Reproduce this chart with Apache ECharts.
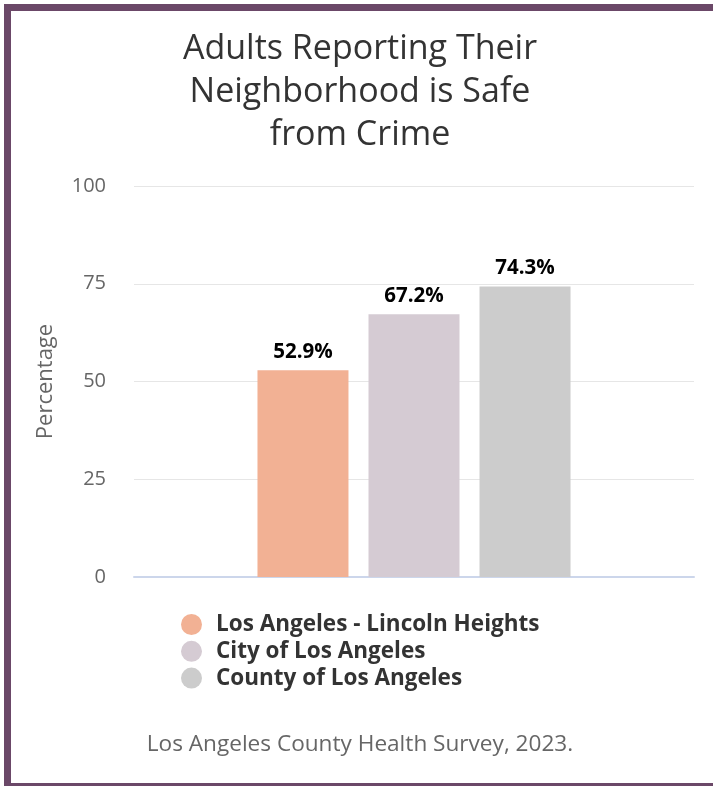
<!DOCTYPE html>
<html>
<head>
<meta charset="utf-8">
<script src="https://cdn.jsdelivr.net/npm/echarts@6/dist/echarts.min.js"></script>
<style>
html,body{margin:0;padding:0;background:#fff;overflow:hidden;}
#chart{position:absolute;left:0;top:0;width:713px;height:786px;}
#frame{position:absolute;left:4px;top:4px;width:800px;height:772px;border:7px solid #6b4868;pointer-events:none;}
</style>
</head>
<body>
<div id="chart"></div>
<div id="frame"></div>
<script>
const titleText = 'Adults Reporting Their\nNeighborhood is Safe\nfrom Crime';
const categories = [''];
const seriesNames = ['Los Angeles - Lincoln Heights', 'City of Los Angeles', 'County of Los Angeles'];
const seriesValues = [52.9, 67.2, 74.3];
const seriesColors = ['#f2b194', '#d5cbd3', '#cccccc'];
const yTicks = [0, 25, 50, 75, 100];
const yAxisName = 'Percentage';
const footerText = 'Los Angeles County Health Survey, 2023.';

const chart = echarts.init(document.getElementById('chart'));
const FONT = '"Open Sans", "Noto Sans", sans-serif';

const series = seriesNames.map((name, i) => ({
  name: name,
  type: 'bar',
  data: [seriesValues[i]],
  barWidth: 91,
  barGap: '22%',
  itemStyle: { color: seriesColors[i] },
  label: {
    show: true,
    position: 'top',
    distance: 8,
    formatter: p => p.value.toFixed(1) + '%',
    color: '#000',
    fontWeight: 'bold',
    fontSize: 20.5,
    fontFamily: FONT
  }
}));

chart.setOption({
  animation: false,
  backgroundColor: '#fff',
  textStyle: { fontFamily: FONT },
  legend: {
    orient: 'vertical',
    left: 176,
    top: 608,
    icon: 'circle',
    itemWidth: 39,
    itemHeight: 21,
    itemGap: 3.8,
    selectedMode: false,
    data: seriesNames,
    textStyle: { fontSize: 22.5, fontWeight: 'bold', color: '#333', fontFamily: FONT }
  },
  grid: { left: 134, right: 19, top: 186, bottom: 209, containLabel: false },
  xAxis: {
    type: 'category',
    data: categories,
    axisLine: { lineStyle: { color: '#ccd6eb', width: 2 } },
    axisTick: { show: false },
    axisLabel: { show: false }
  },
  yAxis: {
    type: 'value',
    min: yTicks[0],
    max: yTicks[yTicks.length - 1],
    interval: 25,
    name: yAxisName,
    nameLocation: 'middle',
    nameGap: 77,
    nameTextStyle: { fontSize: 22, color: '#666', fontFamily: FONT },
    axisLabel: { fontSize: 20, color: '#666', margin: 28, fontFamily: FONT },
    splitLine: { lineStyle: { color: '#e6e6e6', width: 1 } },
    axisLine: { show: false },
    axisTick: { show: false }
  },
  graphic: [{
    type: 'text',
    x: 360,
    y: 28,
    style: { text: titleText, fontSize: 34, fill: '#333', lineHeight: 43, align: 'center', verticalAlign: 'top', fontFamily: FONT }
  }, {
    type: 'text',
    x: 360,
    y: 745,
    style: { text: footerText, fontSize: 22.6, fill: '#666', align: 'center', verticalAlign: 'middle', fontFamily: FONT }
  }],
  series: series
});
</script>
</body>
</html>
